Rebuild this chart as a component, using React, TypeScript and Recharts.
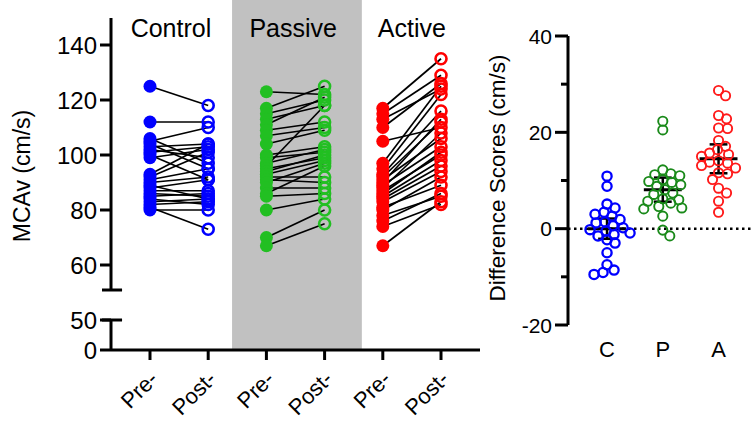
import React from 'react';
import {
  ComposedChart,
  Line,
  Scatter,
  XAxis,
  YAxis,
  ReferenceArea,
  ReferenceLine,
  ReferenceDot,
  Label,
} from 'recharts';

// ---------------- data ----------------
const phaseLabels = ['Pre-', 'Post-', 'Pre-', 'Post-', 'Pre-', 'Post-'];
const groupNames = ['Control', 'Passive', 'Active'];
const diffCategories = ['C', 'P', 'A'];
const leftTickValues = [0, 50, 60, 80, 100, 120, 140];
const rightTickValues = [-20, -10, 0, 10, 20, 30, 40];

const controlPre = [125, 112, 106, 105, 104, 103, 102, 101, 100, 99, 93, 92, 91, 90, 89, 88, 87, 86, 85, 84, 83, 82, 81, 80];
const controlPost = [118, 112, 97, 110, 95, 104, 99, 103, 91, 102, 104, 101, 95, 92, 84, 91, 87, 85, 86, 82, 84, 83, 73, 80];
const passivePre = [123, 117, 115, 113, 111, 109, 107, 104, 100, 99, 97, 96, 95, 94, 93, 92, 91, 90, 88, 86, 85, 80, 70, 67];
const passivePost = [122, 125, 120, 118, 121, 112, 110, 109, 103, 101, 102, 118, 99, 100, 98, 92, 90, 97, 88, 96, 86, 84, 80, 75];
const activePre = [117, 115, 113, 110, 105, 97, 95, 93, 92, 91, 90, 89, 88, 87, 86, 85, 84, 83, 81, 80, 78, 76, 74, 67];
const activePost = [135, 129, 124, 126, 110, 125, 122, 116, 112, 106, 113, 103, 108, 100, 101, 98, 96, 94, 89, 92, 85, 86, 82, 83];

const diffC = [10.9, 8.8, 5.1, 4.3, 3.4, 3.0, 2.6, 1.9, 1.4, 1.2, 0.6, 0.2, -0.2, -0.5, -0.9, -1.2, -1.5, -2.3, -3.0, -5.0, -7.5, -8.6, -9.1, -9.5];
const diffP = [22.3, 20.5, 12.2, 11.4, 11.2, 11.0, 10.2, 9.8, 9.6, 9.1, 8.8, 8.1, 7.4, 7.1, 6.2, 6.0, 5.7, 5.3, 4.6, 4.3, 4.1, 2.6, -0.3, -1.5];
const diffA = [28.7, 27.6, 23.5, 22.8, 20.9, 20.8, 18.3, 17.1, 16.4, 15.7, 15.4, 15.0, 14.1, 13.8, 13.6, 13.1, 12.6, 11.6, 11.4, 10.2, 8.4, 7.4, 5.7, 3.4];
const diffMean = [0.0, 8.1, 14.5];
const diffSem = [2.1, 2.5, 3.0];

// ---------------- styling ----------------
const leftColors = ['#0000ff', '#22bf22', '#ff0000'];
const rightColors = ['#0000ff', '#1a8a1a', '#ff1a1a'];
const FONT = '"Liberation Sans", Arial, Helvetica, sans-serif';

// Broken-axis mapping for the left panel (value -> display units)
const LOWER_K = 0.6 / 2.75;
const UPPER_SHIFT = 29.0909;
const BREAK_LOW = 50 * LOWER_K;
const BREAK_HIGH = 21.818;
const toD = (v: number) => (v > 50 ? v - UPPER_SHIFT : v * LOWER_K);
const fromD = (d: number) => (d > BREAK_LOW + 0.5 ? d + UPPER_SHIFT : d / LOWER_K);
const LEFT_TOP = 120.727;
const X_MIN = -0.67;
const X_MAX = 5.67;

const groupsPre = [controlPre, passivePre, activePre];
const groupsPost = [controlPost, passivePost, activePost];

const connectorData = groupsPre.flatMap((pre, g) =>
  pre.map((v, i) => [
    { x: 2 * g, y: toD(v) },
    { x: 2 * g + 1, y: toD(groupsPost[g][i]) },
  ])
);

// simple beeswarm layout (pixel offsets) for the right panel
const R_PX_Y = 289 / 60;
const R_PX_X = 184 / 3.3;
function swarm(values: number[], diameter: number): number[] {
  const placed: { x: number; y: number }[] = [];
  const order = values.map((_, i) => i).sort((a, b) => values[b] - values[a]);
  const offsets = new Array(values.length).fill(0);
  for (const i of order) {
    const y = values[i] * R_PX_Y;
    for (let k = 0; k < 400; k++) {
      const s = k === 0 ? 0 : k % 2 === 1 ? Math.ceil(k / 2) : -k / 2;
      if (placed.every((p) => (p.x - s) ** 2 + (p.y - y) ** 2 >= diameter * diameter)) {
        placed.push({ x: s, y });
        offsets[i] = s;
        break;
      }
    }
  }
  return offsets;
}
const diffGroups = [diffC, diffP, diffA];
const diffData = diffGroups.map((vals, g) => {
  const off = swarm(vals, 8.6);
  return vals.map((v, i) => ({ x: g + off[i] / R_PX_X, y: v }));
});

// ---------------- shapes ----------------
const filledDot = (color: string) => (p: any) => (
  <circle cx={p.cx} cy={p.cy} r={6.5} fill={color} stroke="none" />
);
const openDot = (color: string, r: number, w: number) => (p: any) => (
  <circle cx={p.cx} cy={p.cy} r={r} fill="none" stroke={color} strokeWidth={w} />
);

const LeftXTick = (props: any) => {
  const { x, y, payload } = props;
  return (
    <g transform={`translate(${x + 4},${y + 13})`}>
      <text
        transform="rotate(-45)"
        textAnchor="end"
        dominantBaseline="central"
        fontSize={22}
        fill="#000"
      >
        {phaseLabels[Math.round(payload.value)]}
      </text>
    </g>
  );
};

const RightYTick = (props: any) => {
  const { x, y, payload } = props;
  const major = payload.value % 20 === 0;
  const len = major ? 13 : 7;
  return (
    <g>
      <line x1={x - len} x2={x} y1={y} y2={y} stroke="#000" strokeWidth={3} />
      {major && (
        <text x={x - len - 3} y={y} textAnchor="end" dominantBaseline="central" fontSize={21} fill="#000">
          {payload.value}
        </text>
      )}
    </g>
  );
};

const axisSeg = { stroke: '#000', strokeWidth: 3, ifOverflow: 'visible' as const };

export default function App() {
  return (
    <div
      style={{
        position: 'fixed',
        left: 0,
        top: 0,
        width: 752,
        height: 421,
        background: '#fff',
        overflow: 'hidden',
        fontFamily: FONT,
      }}
    >
      {/* Left panel */}
      <div style={{ position: 'absolute', left: 0, top: 0 }}>
        <ComposedChart width={490} height={421} margin={{ top: 18, right: 10, left: 0, bottom: 0 }}>
          <XAxis
            type="number"
            dataKey="x"
            domain={[X_MIN, X_MAX]}
            allowDataOverflow
            ticks={[0, 1, 2, 3, 4, 5]}
            interval={0}
            tick={<LeftXTick />}
            tickSize={10}
            axisLine={{ stroke: '#000', strokeWidth: 3 }}
            tickLine={{ stroke: '#000', strokeWidth: 3 }}
            height={71}
          />
          <YAxis
            type="number"
            dataKey="y"
            domain={[0, LEFT_TOP]}
            allowDataOverflow
            ticks={leftTickValues.map(toD)}
            interval={0}
            tickFormatter={(d: number) => String(Math.round(fromD(d)))}
            tickSize={11}
            tickMargin={3}
            axisLine={false}
            tickLine={{ stroke: '#000', strokeWidth: 3 }}
            tick={{ fill: '#000', fontSize: 24 }}
            width={111}
          >
            <Label
              content={() => (
                <text
                  x={22}
                  y={176}
                  transform="rotate(-90 22 176)"
                  textAnchor="middle"
                  dominantBaseline="central"
                  fontSize={23}
                  fill="#000"
                >
                  MCAv (cm/s)
                </text>
              )}
            />
          </YAxis>

          <ReferenceArea
            x1={1.41}
            x2={3.64}
            y1={toD(1.2)}
            y2={350 / 2.75}
            fill="#c1c1c1"
            fillOpacity={1}
            stroke="none"
            ifOverflow="visible"
          />

          {/* broken y axis */}
          <ReferenceLine segment={[{ x: X_MIN, y: LEFT_TOP }, { x: X_MIN, y: BREAK_HIGH }]} {...axisSeg} />
          <ReferenceLine segment={[{ x: -0.825, y: BREAK_HIGH }, { x: -0.48, y: BREAK_HIGH }]} {...axisSeg} />
          <ReferenceLine segment={[{ x: X_MIN, y: BREAK_LOW }, { x: X_MIN, y: 0 }]} {...axisSeg} />
          <ReferenceLine segment={[{ x: -0.825, y: BREAK_LOW }, { x: -0.48, y: BREAK_LOW }]} {...axisSeg} />

          {groupNames.map((name, g) => (
            <ReferenceDot
              key={name}
              x={[0.36, 2.46, 4.5][g]}
              y={117.1}
              r={0}
              fill="none"
              stroke="none"
              label={{ value: name, position: 'center', fontSize: 25, fill: '#000' }}
            />
          ))}

          {connectorData.map((d, i) => (
            <Line
              key={'c' + i}
              data={d}
              dataKey="y"
              stroke="#000"
              strokeWidth={1.7}
              dot={false}
              activeDot={false}
              isAnimationActive={false}
            />
          ))}

          {groupsPre.map((pre, g) => (
            <Scatter
              key={'pre' + g}
              data={pre.map((v) => ({ x: 2 * g, y: toD(v) }))}
              shape={filledDot(leftColors[g])}
              isAnimationActive={false}
            />
          ))}
          {groupsPost.map((post, g) => (
            <Scatter
              key={'post' + g}
              data={post.map((v) => ({ x: 2 * g + 1, y: toD(v) }))}
              shape={openDot(leftColors[g], 5.5, 2.6)}
              isAnimationActive={false}
            />
          ))}
        </ComposedChart>
      </div>

      {/* Right panel */}
      <div style={{ position: 'absolute', left: 480, top: 0 }}>
        <ComposedChart width={272} height={421} margin={{ top: 36, right: 0, left: 0, bottom: 0 }}>
          <XAxis
            type="number"
            dataKey="x"
            domain={[-0.7, 2.6]}
            allowDataOverflow
            ticks={[0, 1, 2]}
            interval={0}
            tickFormatter={(v: number) => diffCategories[Math.round(v)]}
            axisLine={false}
            tickLine={false}
            tickSize={0}
            tickMargin={16}
            tick={{ fill: '#000', fontSize: 22 }}
            height={96}
          />
          <YAxis
            type="number"
            dataKey="y"
            domain={[-20, 40]}
            allowDataOverflow
            ticks={rightTickValues}
            interval={0}
            axisLine={{ stroke: '#000', strokeWidth: 3 }}
            tickLine={false}
            tickSize={0}
            tickMargin={0}
            tick={<RightYTick />}
            width={88}
          >
            <Label
              content={() => (
                <text
                  x={17}
                  y={178}
                  transform="rotate(-90 17 178)"
                  textAnchor="middle"
                  dominantBaseline="central"
                  fontSize={22.5}
                  fill="#000"
                >
                  Difference Scores (cm/s)
                </text>
              )}
            />
          </YAxis>

          <ReferenceLine y={0} stroke="#000" strokeWidth={2.5} strokeDasharray="2.5 3.5" />

          {diffData.map((d, g) => (
            <Scatter
              key={'d' + g}
              data={d}
              shape={openDot(rightColors[g], 4.6, g === 0 ? 2.3 : 1.9)}
              isAnimationActive={false}
            />
          ))}

          {diffMean.map((m, g) => (
            <ReferenceLine
              key={'m' + g}
              segment={[{ x: g - 0.34, y: m }, { x: g + 0.34, y: m }]}
              stroke="#000"
              strokeWidth={3}
              ifOverflow="visible"
            />
          ))}
          {diffMean.map((m, g) => (
            <ReferenceLine
              key={'s' + g}
              segment={[{ x: g, y: m - diffSem[g] }, { x: g, y: m + diffSem[g] }]}
              stroke="#000"
              strokeWidth={2.5}
              ifOverflow="visible"
            />
          ))}
          {diffMean.map((m, g) => (
            <ReferenceLine
              key={'su' + g}
              segment={[{ x: g - 0.16, y: m + diffSem[g] }, { x: g + 0.16, y: m + diffSem[g] }]}
              stroke="#000"
              strokeWidth={2.5}
              ifOverflow="visible"
            />
          ))}
          {diffMean.map((m, g) => (
            <ReferenceLine
              key={'sl' + g}
              segment={[{ x: g - 0.16, y: m - diffSem[g] }, { x: g + 0.16, y: m - diffSem[g] }]}
              stroke="#000"
              strokeWidth={2.5}
              ifOverflow="visible"
            />
          ))}
        </ComposedChart>
      </div>
    </div>
  );
}
